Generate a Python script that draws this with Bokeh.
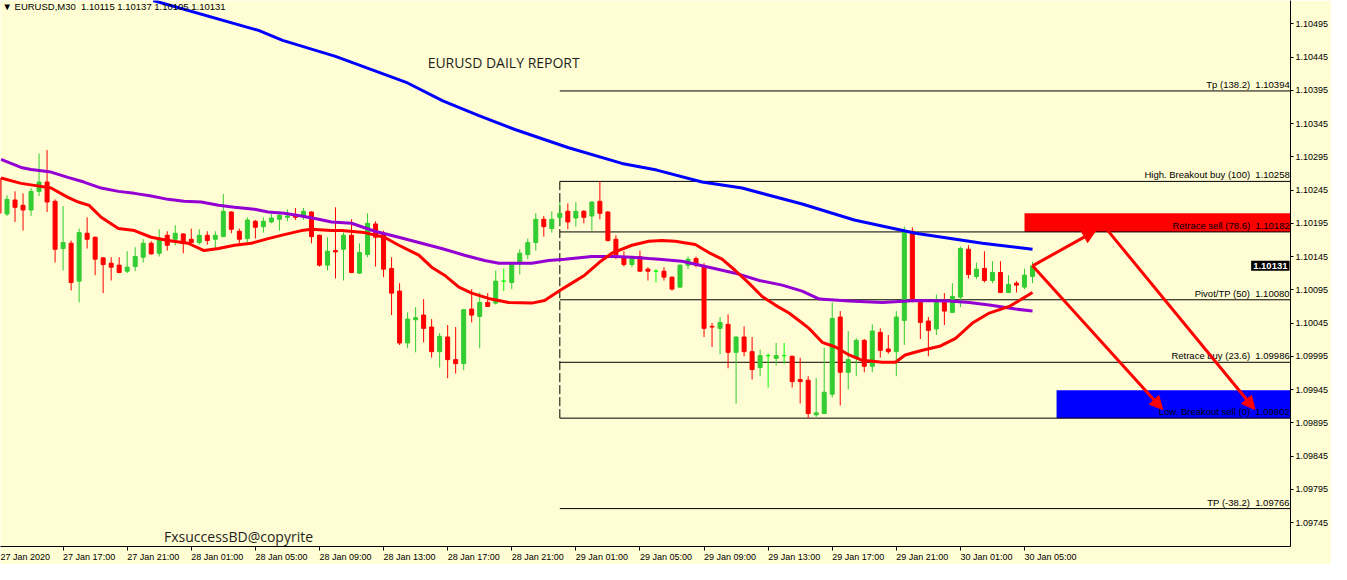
from bokeh.plotting import figure
from bokeh.models import (Range1d, FixedTicker, PrintfTickFormatter, Label, Arrow,
                          NormalHead, ColumnDataSource)
from bokeh.core.properties import value
from bokeh.embed import file_html
from bokeh.resources import INLINE

# ---------------- data ----------------
symbol = "EURUSD,M30"
# 30-minute bars, bar 0 = 27 Jan 2020 13:00, last bar (129) = 30 Jan 05:30
opens = [1.10263, 1.10209, 1.10230, 1.10222, 1.10215, 1.10243, 1.10257, 1.10228, 1.10157, 1.10165,
         1.10108, 1.10180, 1.10174, 1.10143, 1.10135, 1.10132, 1.10123, 1.10130, 1.10144, 1.10165,
         1.10150, 1.10177, 1.10171, 1.10179, 1.10171, 1.10166, 1.10177, 1.10171, 1.10175, 1.10212,
         1.10183, 1.10172, 1.10198, 1.10190, 1.10197, 1.10201, 1.10204, 1.10206, 1.10206, 1.10212,
         1.10177, 1.10132, 1.10154, 1.10156, 1.10177, 1.10120, 1.10148, 1.10194, 1.10180, 1.10127,
         1.10093, 1.10015, 1.10050, 1.10057, 1.10039, 1.10002, 1.10024, 1.09990, 1.09984, 1.10066,
         1.10055, 1.10076, 1.10075, 1.10108, 1.10106, 1.10135, 1.10148, 1.10166, 1.10201, 1.10187,
         1.10204, 1.10213, 1.10203, 1.10213, 1.10206, 1.10228, 1.10212, 1.10171, 1.10144, 1.10133,
         1.10145, 1.10126, 1.10123, 1.10123, 1.10114, 1.10099, 1.10132, 1.10142, 1.10129, 1.10040,
         1.10037, 1.10043, 1.10001, 1.10024, 1.10002, 1.09978, 1.09996, 1.09992, 1.09996, 1.09995,
         1.09960, 1.09959, 1.09907, 1.09909, 1.09938, 1.10054, 1.09971, 1.09992, 1.10019, 1.09980,
         1.10031, 1.10006, 1.10002, 1.10049, 1.10183, 1.10076, 1.10048, 1.10036, 1.10076, 1.10061,
         1.10084, 1.10156, 1.10115, 1.10127, 1.10109, 1.10121, 1.10091, 1.10105, 1.10099, 1.10115]
highs = [1.10270, 1.10237, 1.10243, 1.10240, 1.10248, 1.10300, 1.10305, 1.10231, 1.10221, 1.10169,
         1.10187, 1.10204, 1.10175, 1.10144, 1.10144, 1.10144, 1.10153, 1.10159, 1.10171, 1.10168,
         1.10186, 1.10183, 1.10192, 1.10180, 1.10187, 1.10186, 1.10183, 1.10183, 1.10239, 1.10213,
         1.10187, 1.10204, 1.10200, 1.10204, 1.10209, 1.10213, 1.10216, 1.10218, 1.10218, 1.10213,
         1.10178, 1.10174, 1.10219, 1.10181, 1.10201, 1.10165, 1.10210, 1.10198, 1.10184, 1.10144,
         1.10105, 1.10061, 1.10069, 1.10081, 1.10051, 1.10030, 1.10042, 1.10039, 1.10066, 1.10096,
         1.10091, 1.10090, 1.10124, 1.10127, 1.10136, 1.10156, 1.10172, 1.10210, 1.10206, 1.10213,
         1.10227, 1.10225, 1.10227, 1.10215, 1.10228, 1.10258, 1.10213, 1.10177, 1.10153, 1.10145,
         1.10154, 1.10129, 1.10126, 1.10129, 1.10115, 1.10133, 1.10145, 1.10145, 1.10135, 1.10045,
         1.10054, 1.10058, 1.10025, 1.10040, 1.10024, 1.10005, 1.09999, 1.10015, 1.10015, 1.09996,
         1.09993, 1.09965, 1.09962, 1.10008, 1.10076, 1.10063, 1.10033, 1.10022, 1.10021, 1.10043,
         1.10037, 1.10027, 1.10063, 1.10190, 1.10189, 1.10079, 1.10054, 1.10088, 1.10090, 1.10105,
         1.10160, 1.10162, 1.10136, 1.10153, 1.10138, 1.10138, 1.10117, 1.10108, 1.10127, 1.10137]
lows = [1.10207, 1.10206, 1.10197, 1.10184, 1.10206, 1.10236, 1.10212, 1.10136, 1.10124, 1.10094,
        1.10076, 1.10157, 1.10117, 1.10090, 1.10109, 1.10120, 1.10120, 1.10123, 1.10136, 1.10148,
        1.10145, 1.10154, 1.10162, 1.10150, 1.10165, 1.10163, 1.10163, 1.10157, 1.10174, 1.10180,
        1.10165, 1.10166, 1.10172, 1.10181, 1.10195, 1.10184, 1.10198, 1.10200, 1.10200, 1.10165,
        1.10130, 1.10124, 1.10112, 1.10109, 1.10120, 1.10119, 1.10144, 1.10130, 1.10114, 1.10057,
        1.10012, 1.10007, 1.10001, 1.10016, 1.09993, 1.09978, 1.09962, 1.09969, 1.09974, 1.10046,
        1.10007, 1.10069, 1.10073, 1.10093, 1.10096, 1.10118, 1.10141, 1.10154, 1.10175, 1.10181,
        1.10192, 1.10186, 1.10190, 1.10195, 1.10184, 1.10201, 1.10168, 1.10141, 1.10130, 1.10129,
        1.10122, 1.10109, 1.10106, 1.10109, 1.10094, 1.10098, 1.10126, 1.10129, 1.10024, 1.10009,
        1.09998, 1.09977, 1.09924, 1.09995, 1.09960, 1.09965, 1.09948, 1.09981, 1.09984, 1.09948,
        1.09924, 1.09902, 1.09904, 1.09908, 1.09933, 1.09921, 1.09945, 1.09965, 1.09971, 1.09971,
        1.09993, 1.09999, 1.09965, 1.10012, 1.10076, 1.10021, 1.09995, 1.10027, 1.10042, 1.10060,
        1.10069, 1.10112, 1.10111, 1.10106, 1.10105, 1.10090, 1.10090, 1.10091, 1.10096, 1.10105]
closes = [1.10210, 1.10231, 1.10219, 1.10215, 1.10243, 1.10257, 1.10227, 1.10156, 1.10166, 1.10106,
          1.10181, 1.10171, 1.10141, 1.10133, 1.10129, 1.10121, 1.10129, 1.10145, 1.10165, 1.10149,
          1.10171, 1.10162, 1.10180, 1.10165, 1.10166, 1.10177, 1.10169, 1.10177, 1.10213, 1.10186,
          1.10171, 1.10200, 1.10189, 1.10198, 1.10203, 1.10207, 1.10206, 1.10204, 1.10213, 1.10175,
          1.10132, 1.10153, 1.10152, 1.10177, 1.10121, 1.10151, 1.10195, 1.10174, 1.10126, 1.10090,
          1.10015, 1.10051, 1.10053, 1.10037, 1.10002, 1.10025, 1.09990, 1.09984, 1.10065, 1.10057,
          1.10076, 1.10070, 1.10108, 1.10108, 1.10135, 1.10150, 1.10166, 1.10201, 1.10190, 1.10201,
          1.10210, 1.10197, 1.10213, 1.10204, 1.10227, 1.10210, 1.10169, 1.10148, 1.10133, 1.10142,
          1.10123, 1.10123, 1.10123, 1.10114, 1.10096, 1.10132, 1.10141, 1.10132, 1.10037, 1.10039,
          1.10046, 1.10001, 1.10024, 1.10002, 1.09975, 1.09996, 1.09996, 1.09996, 1.09996, 1.09957,
          1.09957, 1.09909, 1.09910, 1.09941, 1.10052, 1.09971, 1.09990, 1.10019, 1.09980, 1.10033,
          1.10004, 1.10002, 1.10054, 1.10184, 1.10078, 1.10046, 1.10034, 1.10076, 1.10063, 1.10085,
          1.10157, 1.10118, 1.10126, 1.10109, 1.10121, 1.10091, 1.10103, 1.10102, 1.10117, 1.10131]

# moving averages (bar index, price)
blue_ma_bar = [19.25, 32.4, 35.4, 42.0, 51.0, 55.4, 59.9, 64.4, 71.0, 77.75, 82.1, 87.75, 92.75,
               100.25, 106.75, 114.4, 122.75, 129.0]
blue_ma = [1.10530, 1.10485, 1.10470, 1.10446, 1.10406, 1.10379, 1.10357, 1.10336, 1.10309, 1.10285,
           1.10275, 1.10257, 1.10248, 1.10224, 1.10200, 1.10180, 1.10165, 1.10156]
purple_ma_bar = [0.25, 2.75, 4.0, 6.5, 8.6, 10.6, 12.75, 14.9, 16.9, 19.0, 21.1, 23.1, 25.25, 27.4,
                 29.4, 31.9, 33.6, 35.6, 37.75, 39.9, 41.5, 44.0, 46.9, 49.9, 52.75, 55.25, 58.1,
                 60.6, 62.4, 64.9, 66.5, 68.6, 70.6, 74.0, 76.9, 79.0, 81.1, 82.4, 85.25, 88.6,
                 91.9, 94.9, 97.75, 100.25, 102.4, 106.1, 110.25, 114.4, 118.6, 121.1, 123.6,
                 126.9, 129.0]
purple_ma = [1.10291, 1.10279, 1.10276, 1.10272, 1.10264, 1.10257, 1.10248, 1.10243, 1.10240,
             1.10236, 1.10231, 1.10228, 1.10227, 1.10222, 1.10219, 1.10216, 1.10212, 1.10210,
             1.10206, 1.10201, 1.10197, 1.10195, 1.10183, 1.10174, 1.10165, 1.10157, 1.10147,
             1.10139, 1.10135, 1.10135, 1.10135, 1.10139, 1.10141, 1.10145, 1.10145, 1.10144,
             1.10142, 1.10141, 1.10138, 1.10129, 1.10120, 1.10109, 1.10102, 1.10093, 1.10081,
             1.10078, 1.10076, 1.10079, 1.10078, 1.10076, 1.10072, 1.10066, 1.10063]
red_ma_bar = [0.25, 2.75, 4.4, 6.5, 8.6, 9.9, 11.25, 12.75, 14.9, 16.9, 19.0, 21.1, 23.6, 25.6,
              27.4, 29.4, 31.5, 33.6, 35.6, 37.75, 39.0, 41.5, 42.75, 45.6, 48.1, 49.9, 52.4,
              54.0, 55.6, 57.4, 59.0, 61.1, 63.6, 66.5, 68.1, 70.0, 71.5, 73.1, 74.9, 76.5, 79.0,
              81.1, 82.75, 84.4, 86.9, 88.6, 90.25, 91.9, 93.6, 95.25, 96.9, 98.6, 100.25, 101.1,
              102.75, 104.4, 106.1, 107.75, 110.25, 111.9, 113.1, 115.25, 117.4, 119.4, 121.5,
              123.6, 126.1, 129.0]
red_ma = [1.10263, 1.10255, 1.10252, 1.10248, 1.10234, 1.10227, 1.10222, 1.10204, 1.10187, 1.10184,
          1.10174, 1.10169, 1.10165, 1.10154, 1.10157, 1.10162, 1.10165, 1.10172, 1.10178, 1.10184,
          1.10186, 1.10184, 1.10184, 1.10181, 1.10174, 1.10162, 1.10147, 1.10129, 1.10117, 1.10099,
          1.10090, 1.10082, 1.10076, 1.10075, 1.10079, 1.10094, 1.10105, 1.10117, 1.10136, 1.10150,
          1.10162, 1.10168, 1.10169, 1.10168, 1.10163, 1.10151, 1.10141, 1.10124, 1.10105, 1.10085,
          1.10072, 1.10060, 1.10045, 1.10037, 1.10016, 1.10009, 1.09997, 1.09989, 1.09986, 1.09986,
          1.09997, 1.10004, 1.10010, 1.10022, 1.10045, 1.10060, 1.10070, 1.10091]

# x-axis time labels and the bar they belong to
time_labels = ["27 Jan 2020", "27 Jan 17:00", "27 Jan 21:00", "28 Jan 01:00", "28 Jan 05:00",
               "28 Jan 09:00", "28 Jan 13:00", "28 Jan 17:00", "28 Jan 21:00", "29 Jan 01:00",
               "29 Jan 05:00", "29 Jan 09:00", "29 Jan 13:00", "29 Jan 17:00", "29 Jan 21:00",
               "30 Jan 01:00", "30 Jan 05:00"]
time_label_bars = [0, 8, 16, 24, 32, 40, 48, 56, 64, 72, 80, 88, 96, 104, 112, 120, 128]
price_ticks = [1.09695, 1.09745, 1.09795, 1.09845, 1.09895, 1.09945, 1.09995, 1.10045,
               1.10095, 1.10145, 1.10195, 1.10245, 1.10295, 1.10345, 1.10395, 1.10445, 1.10495]

# Fibonacci object
fib_start_bar = 70
fib_names = ["Tp (138.2)", "High. Breakout buy (100)", "Retrace sell (78.6)", "Pivot/TP (50)",
             "Retrace buy (23.6)", "Low. Breakout sell (0)", "TP (-38.2)"]
fib_levels = [1.10394, 1.10258, 1.10182, 1.10080, 1.09986, 1.09902, 1.09766]

# zones and arrows
zone_left = [128, 132]
zone_right = [163, 163]
zone_top = [1.10210, 1.09944]
zone_bottom = [1.10182, 1.09902]
zone_colors = ["#FF0000", "#0000FF"]
arrow_x0 = [129, 129, 138.4]
arrow_y0 = [1.10131, 1.10131, 1.10184]
arrow_x1 = [136.9, 145.25, 156.75]
arrow_y1 = [1.10184, 1.09915, 1.09915]

title_text = "EURUSD DAILY REPORT"
copyright_text = "FxsuccessBD@copyrite"

# ---------------- styling ----------------
BG = "#FFFDD3"
BULL = "#32CD32"
BEAR = "#FF0000"
DOJI = "#00FF00"
FONT = "Liberation Sans"
X0, X1 = 0.1875, 161.2
Y0, Y1 = 1.09709, 1.10530

p = figure(width=1331, height=564, output_backend="svg", toolbar_location=None,
           x_range=Range1d(X0, X1), y_range=Range1d(Y0, Y1), y_axis_location="right",
           min_border_left=0, min_border_top=0, min_border_right=0, min_border_bottom=0,
           background_fill_color=BG, border_fill_color=BG, outline_line_color=None)
p.grid.visible = False

# axes
xa = p.xaxis[0]
label_pos = [max(b + 3.25, 3.25) for b in time_label_bars]
xa.ticker = FixedTicker(ticks=label_pos, minor_ticks=time_label_bars)
xa.major_label_overrides = {pos: lab for pos, lab in zip(label_pos, time_labels)}
xa.major_tick_out = 0
xa.major_tick_in = 0
xa.minor_tick_out = 4
xa.minor_tick_in = 0
xa.minor_tick_line_color = "black"
xa.major_label_standoff = 1
xa.axis_line_color = "black"
xa.major_label_text_font = FONT
xa.major_label_text_font_size = "9px"
xa.major_label_text_color = "black"

ya = p.yaxis[0]
ya.ticker = FixedTicker(ticks=price_ticks, minor_ticks=[])
ya.formatter = PrintfTickFormatter(format="%.5f")
ya.major_tick_out = 3
ya.major_tick_in = 0
ya.major_label_standoff = 2
ya.axis_line_color = "black"
ya.major_label_text_font = FONT
ya.major_label_text_font_size = "9px"
ya.major_label_text_color = "black"

# zones (background)
p.quad(left=zone_left, right=zone_right, top=zone_top, bottom=zone_bottom,
       fill_color=zone_colors, line_color=None)

# fib lines
p.segment(x0=[fib_start_bar] * len(fib_levels), y0=fib_levels,
          x1=[X1 + 5] * len(fib_levels), y1=fib_levels, line_color="black", line_width=1)
p.segment(x0=[fib_start_bar], y0=[min(fib_levels[1:6])], x1=[fib_start_bar],
          y1=[max(fib_levels[1:6])], line_color="black", line_width=1, line_dash="9 3")

# candles
idx = list(range(len(opens)))
colors = [BULL if c > o else (BEAR if c < o else DOJI) for o, c in zip(opens, closes)]
src = ColumnDataSource(dict(idx=idx, o=opens, h=highs, l=lows, c=closes,
                            top=[max(o, c) for o, c in zip(opens, closes)],
                            bottom=[min(o, c) for o, c in zip(opens, closes)],
                            color=colors))
p.segment(x0="idx", y0="l", x1="idx", y1="h", line_color="color", line_width=1, source=src)
p.vbar(x="idx", width=0.5, top="top", bottom="bottom", fill_color="color",
       line_color="color", line_width=1, source=src)

# moving averages
p.line(purple_ma_bar, purple_ma, line_color="#9400D3", line_width=3)
p.line(red_ma_bar, red_ma, line_color="#FF0000", line_width=3)
p.line(blue_ma_bar, blue_ma, line_color="#0000FF", line_width=3)

# fib labels
fib_texts = [f"{n}\u00a0\u00a0{v:.5f}" for n, v in zip(fib_names, fib_levels)]
p.text(x=[X1 - 0.1] * len(fib_levels), y=fib_levels, text=fib_texts, text_align="right",
       text_baseline="bottom", y_offset=-1, text_font=value(FONT), text_font_size="9.5px",
       text_color="black")

# arrows
asrc = ColumnDataSource(dict(x0=arrow_x0, y0=arrow_y0, x1=arrow_x1, y1=arrow_y1))
p.add_layout(Arrow(x_start="x0", y_start="y0", x_end="x1", y_end="y1", source=asrc,
                   line_color="#FF0000", line_width=3,
                   end=NormalHead(size=13, fill_color="#FF0000", line_color="#FF0000",
                                  line_width=1)))

# texts
p.add_layout(Label(x=53.5, y=1.10437, text=title_text, text_font="Open Sans",
                   text_font_size="14px", text_color="#1E1E1E", text_baseline="middle"))
p.add_layout(Label(x=20.6, y=1.09724, text=copyright_text, text_font="Open Sans",
                   text_font_size="14px", text_color="#1E1E1E", text_baseline="middle"))
header = f"\u25BC {symbol}\u00a0\u00a0{opens[-1]:.5f} {highs[-1]:.5f} {lows[-1]:.5f} {closes[-1]:.5f}"
p.add_layout(Label(x=X0, y=Y1, x_offset=2, y_offset=0, text=header, text_font=FONT,
                   text_font_size="9.5px", text_color="black", text_baseline="top"))
# bid price marker, at the edge of the price axis
p.add_layout(Label(x=X1, y=closes[-1], x_offset=-1, text=f"{closes[-1]:.5f}", text_font=FONT,
                   text_font_size="9.5px", text_font_style="bold", text_color="white",
                   text_align="right", text_baseline="middle", background_fill_color="black",
                   padding=2, level="overlay"))

open("out.html", "w").write(file_html(p, INLINE))
